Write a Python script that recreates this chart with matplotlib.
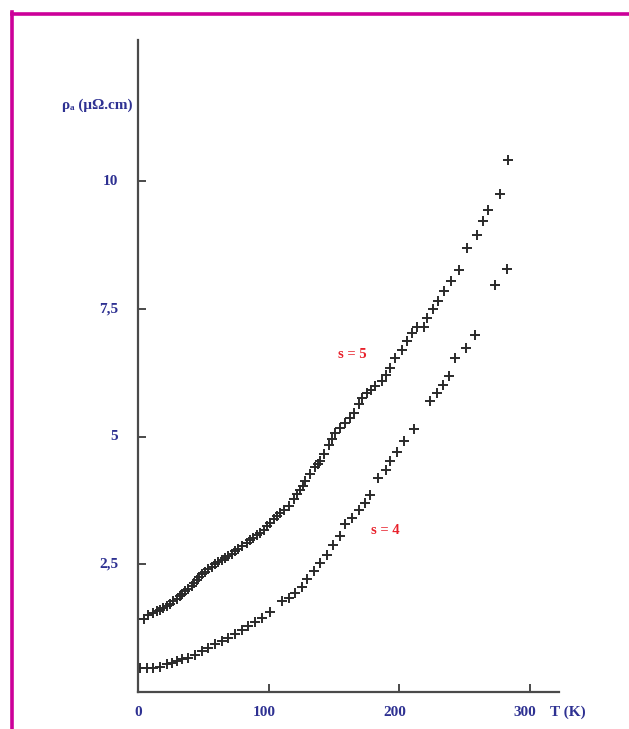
import numpy as np
import matplotlib
matplotlib.use('Agg')
from matplotlib import pyplot as plt
from matplotlib.lines import Line2D

# s = 5 curve (T in K, rho_a in microOhm.cm)
T_s5 = [4.6, 8.0, 11.7, 14.5, 16.9, 19.5, 21.9, 24.5, 27.0, 29.5, 32.2, 34.0, 36.0, 38.5,
        41.0, 43.0, 45.0, 47.0, 48.8, 51.5, 53.9, 56.5, 59.0, 61.5, 64.0, 66.5, 69.2, 71.8,
        74.3, 76.8, 79.3, 83.2, 85.8, 88.3, 91.0, 93.5, 96.0, 98.6, 101.0, 103.7, 106.2,
        108.8, 112.0, 115.2, 119.0, 121.5, 124.1, 126.0, 128.0, 131.8, 135.6, 137.5,
        139.5, 142.0, 145.8, 148.5, 151.0, 154.8, 158.6, 162.0, 165.0, 168.9, 171.4,
        175.2, 178.5, 181.6, 186.7, 189.3, 192.6, 196.9, 202.0, 205.9, 209.7, 213.5,
        218.6, 221.3, 225.6, 229.5, 234.0, 239.5, 245.7, 251.9, 259.4, 263.5, 267.6,
        276.6, 283.0]
rho_s5 = [1.43, 1.50, 1.55, 1.58, 1.61, 1.64, 1.68, 1.73, 1.78, 1.82, 1.87, 1.92, 1.97, 2.02,
          2.07, 2.13, 2.20, 2.25, 2.30, 2.35, 2.40, 2.45, 2.50, 2.55, 2.59, 2.62, 2.66, 2.71,
          2.76, 2.80, 2.85, 2.92, 2.97, 3.02, 3.07, 3.12, 3.18, 3.25, 3.31, 3.38, 3.44,
          3.51, 3.57, 3.64, 3.78, 3.87, 3.96, 4.04, 4.12, 4.27, 4.40, 4.46,
          4.53, 4.66, 4.83, 4.95, 5.07, 5.17, 5.27, 5.37, 5.46, 5.63, 5.76,
          5.85, 5.92, 5.98, 6.08, 6.21, 6.34, 6.54, 6.70, 6.87, 7.03, 7.14,
          7.14, 7.31, 7.49, 7.65, 7.84, 8.04, 8.25, 8.68, 8.94, 9.21, 9.44,
          9.74, 10.42]

# s = 4 curve
T_s4 = [1.5, 6.6, 11.7, 16.9, 21.9, 25.8, 29.6, 33.5, 38.6, 43.7, 48.8, 53.9, 59.0, 64.1,
        69.2, 74.3, 79.4, 84.5, 89.6, 94.7, 100.6, 110.1, 115.2, 120.3, 125.4, 129.3,
        134.3, 139.5, 144.6, 149.2, 154.3, 158.6, 163.7, 168.8, 174.0, 177.8, 183.4,
        189.3, 193.1, 198.2, 203.8, 210.9, 223.5, 228.4, 233.5, 238.0, 242.4, 250.6,
        257.5, 273.0, 282.5]
rho_s4 = [0.47, 0.47, 0.47, 0.49, 0.54, 0.57, 0.60, 0.64, 0.67, 0.73, 0.80, 0.86, 0.93, 0.99,
          1.06, 1.13, 1.21, 1.29, 1.37, 1.45, 1.56, 1.78, 1.84, 1.93, 2.06, 2.22,
          2.36, 2.53, 2.69, 2.87, 3.06, 3.28, 3.41, 3.56, 3.70, 3.86, 4.18,
          4.35, 4.53, 4.70, 4.92, 5.15, 5.69, 5.85, 6.00, 6.19, 6.53, 6.74,
          6.98, 7.96, 8.27]

y_ticks = [2.5, 5, 7.5, 10]
y_ticklabels = ['2,5', '5', '7,5', '10']
x_ticks = [0, 100, 200, 300]
x_ticklabels = ['0', '100', '200', '300']

blue = '#2e3192'
red = '#e8202a'
axis_col = '#4a4a4a'
serif = ['Liberation Serif', 'DejaVu Serif']

fig = plt.figure(figsize=(6.29, 7.29), dpi=100)
fig.patch.set_facecolor('white')

# magenta frame (top and left edges)
fig.add_artist(Line2D([12 / 629, 1.0], [1 - 13.5 / 729, 1 - 13.5 / 729],
                      transform=fig.transFigure, color='#cc0099', lw=2.6))
fig.add_artist(Line2D([11.5 / 629, 11.5 / 629], [0.0, 1 - 12 / 729],
                      transform=fig.transFigure, color='#cc0099', lw=2.6))

ax = fig.add_axes([138 / 629, 1 - 692 / 729, (559 - 138) / 629, (692 - 40) / 729])
ax.set_xlim(0, 322)
ax.set_ylim(0, 12.76)
ax.set_facecolor('none')

ax.plot(T_s5, rho_s5, ls='none', marker='+', ms=6.5, mew=1.4, color='#2a2a2a')
ax.plot(T_s4, rho_s4, ls='none', marker='+', ms=6.5, mew=1.4, color='#2a2a2a')

for side in ['top', 'right']:
    ax.spines[side].set_visible(False)
for side in ['left', 'bottom']:
    ax.spines[side].set_color(axis_col)
    ax.spines[side].set_linewidth(1.6)

ax.set_xticks(x_ticks[1:])
ax.set_xticklabels([])
ax.set_yticks(y_ticks)
ax.set_yticklabels([])
ax.tick_params(direction='in', length=6, width=1.4, color=axis_col)

# tick labels as text so they can sit where the scan puts them
for v, lab in zip(y_ticks, y_ticklabels):
    ax.annotate(lab, xy=(0, v), xycoords=('axes fraction', 'data'), xytext=(-20, 0),
                textcoords='offset pixels', ha='right', va='center', color=blue,
                fontsize=11, fontweight='bold', family=serif)
for v, lab in zip(x_ticks, x_ticklabels):
    ax.annotate(lab, xy=(v, 0), xycoords=('data', 'axes fraction'), xytext=(-5 if v else 0, -21),
                textcoords='offset pixels', ha='center', va='center', color=blue,
                fontsize=11, fontweight='bold', family=serif)

fig.text(568 / 629, 1 - 712 / 729, 'T (K)', ha='center', va='center', color=blue,
         fontsize=11, fontweight='bold', family=serif)
fig.text(97 / 629, 1 - 105 / 729, 'ρₐ (μΩ.cm)', ha='center', va='center', color=blue,
         fontsize=11, fontweight='bold', family=serif)

ax.text(164, 6.6, 's = 5', color=red, fontsize=10.5, fontweight='bold', family=serif,
        ha='center', va='center')
ax.text(189, 3.16, 's = 4', color=red, fontsize=10.5, fontweight='bold', family=serif,
        ha='center', va='center')

plt.savefig('out.png', dpi=100)
